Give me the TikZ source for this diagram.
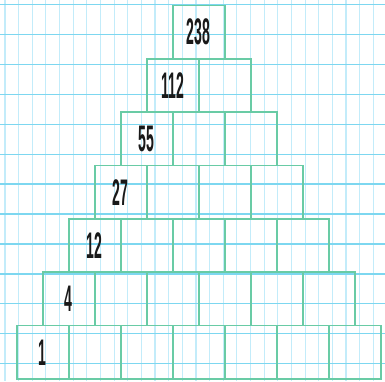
\documentclass[tikz,border=0pt]{standalone}
\usepackage{fontspec}
\newfontfamily\numfont[FakeStretch=0.38]{Liberation Sans}
\definecolor{gridh}{RGB}{125,215,240}
\definecolor{gridv}{RGB}{195,236,250}
\definecolor{cellgreen}{RGB}{105,203,165}

\begin{document}
\begin{tikzpicture}[
			x=1pt, y=-1pt,
			hline/.style={line width=1.4pt, draw=gridh},
			vline/.style={line width=1.1pt, draw=gridv},
			cell/.style={draw=cellgreen, line width=1.6pt, minimum width=52pt, minimum height=53.35pt, inner sep=0pt, text=black!90, font=\numfont\bfseries\fontsize{37}{37}\selectfont}
			]
			\useasboundingbox[fill=white] (0,0) rectangle (385,381);
			
			% --------------------------------------------------------------------
			% squared paper
			% --------------------------------------------------------------------
			\foreach \k in {0,...,27}
				\draw[vline] ({5+13.64*\k},0) -- ({5+13.64*\k},381);
			\foreach \k in {0,...,12}
				\draw[hline] (0,{4.7+29.9*\k}) -- (385,{4.7+29.9*\k});
			
			% --------------------------------------------------------------------
			% pyramid of cells (row 0 at the bottom)
			% --------------------------------------------------------------------
			\foreach \r/\v in {0/1,1/4,2/12,3/27,4/55,5/112,6/238} {
				\pgfmathtruncatemacro\n{6-\r}
				\foreach \k in {0,...,\n} {
					\node[cell] (c\r-\k) at ({42.7+26*\r+52*\k},{352.3-53.35*\r}) {\ifnum\k=0 \v\fi};
				}
			}
			
		\end{tikzpicture}
\end{document}
